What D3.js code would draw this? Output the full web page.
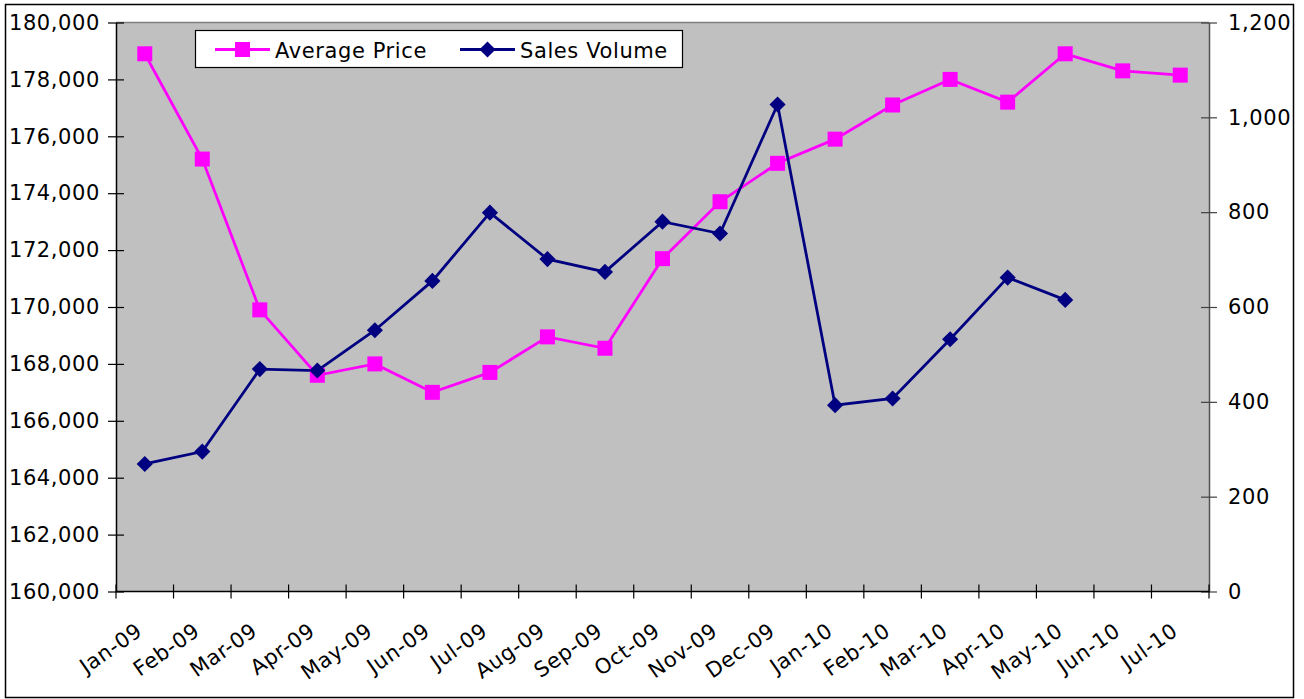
<!DOCTYPE html>
<html><head><meta charset="utf-8">
<script src="https://cdn.jsdelivr.net/npm/d3@7"></script>
<style>
html,body{margin:0;padding:0;background:#fff;}
svg{display:block;font-family:"DejaVu Sans",Verdana,sans-serif;}
text{letter-spacing:0.6px;}
</style></head>
<body>
<svg id="chart" width="1304" height="699"></svg>
<script>
const categories = ["Jan-09","Feb-09","Mar-09","Apr-09","May-09","Jun-09","Jul-09","Aug-09","Sep-09","Oct-09","Nov-09","Dec-09","Jan-10","Feb-10","Mar-10","Apr-10","May-10","Jun-10","Jul-10"];
const averagePrice = [178900,175200,169900,167600,168000,167000,167700,168950,168550,171700,173700,175050,175900,177100,178000,177200,178900,178300,178150];
const salesVolume = [269,295,469,466,551,655,799,701,674,780,755,1027,393,407,532,662,615,null,null];
const leftTicks = [160000,162000,164000,166000,168000,170000,172000,174000,176000,178000,180000];
const rightTicks = [0,200,400,600,800,1000,1200];
const seriesNames = ["Average Price","Sales Volume"];
const seriesColors = ["#FF00FF","#000080"];

const svg = d3.select("#chart");
const plot = {left:116, right:1209, top:22.5, bottom:591.5};
const FS = 21;

// outer border
svg.append("rect").attr("x",5.5).attr("y",4.5).attr("width",1288).attr("height",693)
  .attr("fill","#fff").attr("stroke","#000").attr("stroke-width",1.5);

const x = d3.scaleBand().domain(categories).range([plot.left, plot.right]).padding(0);
const cx = c => x(c) + x.bandwidth()/2;
const yL = d3.scaleLinear().domain([160000,180000]).range([plot.bottom, plot.top]);
const yR = d3.scaleLinear().domain([0,1200]).range([plot.bottom, plot.top]);
const fmt = d3.format(",");

// plot background
svg.append("rect").attr("x",plot.left).attr("y",plot.top)
  .attr("width",plot.right-plot.left).attr("height",plot.bottom-plot.top)
  .attr("fill","#C0C0C0");
svg.append("line").attr("x1",plot.left).attr("x2",plot.right).attr("y1",plot.top).attr("y2",plot.top)
  .attr("stroke","#808080").attr("stroke-width",1.5);

// left axis
const gL = svg.append("g").attr("transform",`translate(${plot.left},0)`)
  .call(d3.axisLeft(yL).tickValues(leftTicks).tickFormat(fmt).tickSizeOuter(0));
gL.select(".domain").attr("stroke","#000").attr("stroke-width",1.5);
gL.selectAll(".tick line").attr("x1",-8).attr("x2",8).attr("stroke","#000").attr("stroke-width",1.2);
gL.selectAll(".tick text").attr("x",-16).attr("font-size",FS).attr("font-family","DejaVu Sans").attr("fill","#000");

// right axis
const gR = svg.append("g").attr("transform",`translate(${plot.right},0)`)
  .call(d3.axisRight(yR).tickValues(rightTicks).tickFormat(fmt).tickSizeOuter(0));
gR.select(".domain").attr("stroke","#505050").attr("stroke-width",1.5);
gR.selectAll(".tick line").attr("x1",-8).attr("x2",8).attr("stroke","#404040").attr("stroke-width",1.2);
gR.selectAll(".tick text").attr("x",19).attr("font-size",FS).attr("font-family","DejaVu Sans").attr("fill","#000");

// bottom axis
const gB = svg.append("g");
gB.append("line").attr("x1",plot.left).attr("x2",plot.right).attr("y1",plot.bottom).attr("y2",plot.bottom)
  .attr("stroke","#000").attr("stroke-width",1.5);
const bounds = categories.map(c => x(c)).concat([x.range()[1]]);
gB.selectAll("line.tk").data(bounds).enter().append("line").attr("class","tk")
  .attr("x1",d=>d).attr("x2",d=>d).attr("y1",plot.bottom-7).attr("y2",plot.bottom+7)
  .attr("stroke","#000").attr("stroke-width",1.2);
gB.selectAll("text").data(categories).enter().append("text")
  .attr("transform",d=>`translate(${cx(d)-1},${634}) rotate(-35)`)
  .attr("text-anchor","end").attr("font-size",FS).attr("fill","#000").text(d=>d);

// lines
const lineP = d3.line().x((d,i)=>cx(categories[i])).y(d=>yL(d));
const lineV = d3.line().defined(d=>d!=null).x((d,i)=>cx(categories[i])).y(d=>yR(d));
svg.append("path").datum(averagePrice).attr("d",lineP).attr("fill","none")
  .attr("stroke",seriesColors[0]).attr("stroke-width",2.8);
svg.append("path").datum(salesVolume).attr("d",lineV).attr("fill","none")
  .attr("stroke",seriesColors[1]).attr("stroke-width",2.8);

// markers
const sq = 15;
svg.selectAll("rect.mp").data(averagePrice).enter().append("rect").attr("class","mp")
  .attr("x",(d,i)=>cx(categories[i])-sq/2).attr("y",d=>yL(d)-sq/2)
  .attr("width",sq).attr("height",sq).attr("fill",seriesColors[0]);
svg.selectAll("path.mv").data(salesVolume.map((v,i)=>({v,i})).filter(d=>d.v!=null)).enter()
  .append("path").attr("class","mv")
  .attr("transform",d=>`translate(${cx(categories[d.i])},${yR(d.v)}) rotate(45)`)
  .attr("d",d3.symbol().type(d3.symbolSquare).size(130)).attr("fill",seriesColors[1]);

// legend
const lg = svg.append("g");
lg.append("rect").attr("x",195.5).attr("y",30.5).attr("width",487).attr("height",37)
  .attr("fill","#fff").attr("stroke","#000").attr("stroke-width",1.2);
const legendX = [215, 460];
seriesNames.forEach((name,i)=>{
  const x0 = legendX[i];
  lg.append("line").attr("x1",x0).attr("x2",x0+55).attr("y1",49.5).attr("y2",49.5)
    .attr("stroke",seriesColors[i]).attr("stroke-width",2.8);
  if(i===0){
    lg.append("rect").attr("x",x0+27.5-sq/2).attr("y",49.5-sq/2).attr("width",sq).attr("height",sq).attr("fill",seriesColors[0]);
  } else {
    lg.append("path").attr("transform",`translate(${x0+27.5},49.5) rotate(45)`)
      .attr("d",d3.symbol().type(d3.symbolSquare).size(130)).attr("fill",seriesColors[1]);
  }
  lg.append("text").attr("x",x0+60).attr("y",58).attr("font-size",FS).attr("fill","#000").text(name);
});
</script>
</body></html>
